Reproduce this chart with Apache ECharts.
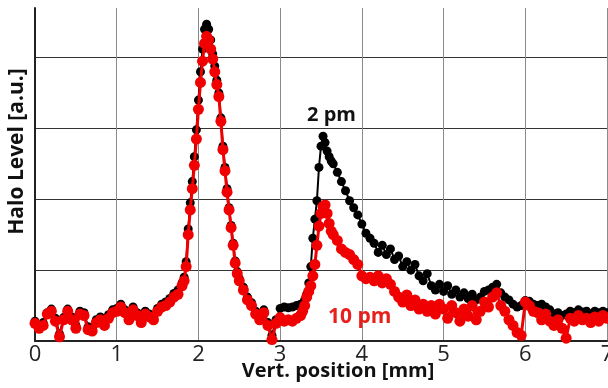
<!DOCTYPE html>
<html><head><meta charset="utf-8">
<script src="https://cdn.jsdelivr.net/npm/echarts@6/dist/echarts.min.js"></script>
<style>html,body{margin:0;padding:0;background:#fff}#c{width:608px;height:388px}</style>
</head><body><div id="c"></div>
<script>
// sample positions along x (mm); denser on the steep flanks
const positions = [0.00,0.05,0.10,0.15,0.20,0.25,0.30,0.35,0.40,0.45,0.50,0.55,0.60,0.65,0.70,0.75,0.80,0.85,0.90,0.95,
1.00,1.05,1.10,1.15,1.20,1.25,1.30,1.35,1.40,1.45,1.50,1.55,1.60,1.65,1.70,1.75,
1.800,1.825,1.850,1.875,1.900,1.925,1.950,1.975,2.000,2.025,2.050,2.075,2.100,2.125,2.150,2.175,2.200,2.225,2.250,2.275,2.300,2.325,2.350,2.375,2.400,2.425,2.450,2.475,2.500,
2.55,2.60,2.65,2.70,2.75,2.80,2.85,2.90,2.95,3.00,3.05,3.10,3.15,3.20,
3.250,3.275,3.300,3.325,3.350,3.375,3.400,3.425,3.450,3.475,3.500,3.525,3.550,3.575,3.600,3.625,3.650,
3.70,3.75,3.80,3.85,3.90,3.95,4.00,4.05,4.10,4.15,4.20,4.25,4.30,4.35,4.40,4.45,4.50,4.55,4.60,4.65,
4.70,4.75,4.80,4.85,4.90,4.95,5.00,5.05,5.10,5.15,5.20,5.25,5.30,5.35,5.40,5.45,5.50,5.55,5.60,5.65,
5.70,5.75,5.80,5.85,5.90,5.95,6.00,6.05,6.10,6.15,6.20,6.25,6.30,6.35,6.40,6.45,6.50,6.55,6.60,6.65,
6.70,6.75,6.80,6.85,6.90,6.95,7.00];

// 2 pm halo level (a.u.)
const halo2pm = [0.28,0.22,0.26,0.40,0.45,0.32,0.10,0.33,0.45,0.34,0.22,0.42,0.40,0.20,0.18,0.30,0.34,0.28,0.37,0.44,
0.46,0.52,0.44,0.35,0.48,0.40,0.30,0.42,0.38,0.35,0.46,0.52,0.55,0.60,0.67,0.72,
0.82,0.90,1.12,1.58,1.95,2.25,2.60,2.98,3.40,3.80,4.12,4.40,4.47,4.40,4.25,4.05,3.88,3.68,3.50,3.15,2.75,2.45,2.15,1.88,1.63,1.38,1.13,0.98,0.88,
0.76,0.62,0.54,0.42,0.34,0.44,0.26,0.08,0.30,0.46,0.48,0.47,0.48,0.50,
0.52,0.50,0.58,0.66,0.82,1.05,1.45,1.72,1.98,2.45,2.75,2.89,2.80,2.68,2.60,2.54,2.50,
2.38,2.25,2.12,1.98,1.88,1.78,1.65,1.52,1.45,1.38,1.25,1.35,1.22,1.30,1.15,1.20,1.05,1.12,1.00,1.08,
0.92,0.85,0.95,0.78,0.72,0.80,0.70,0.78,0.66,0.72,0.62,0.68,0.60,0.66,0.58,0.62,0.70,0.72,0.76,0.80,
0.68,0.62,0.58,0.52,0.48,0.50,0.57,0.56,0.52,0.50,0.52,0.48,0.44,0.38,0.40,0.36,0.38,0.42,0.40,0.44,
0.41,0.42,0.38,0.42,0.40,0.42,0.40];

// 10 pm halo level (a.u.)
const halo10pm = [0.25,0.18,0.22,0.38,0.42,0.28,0.06,0.30,0.42,0.30,0.18,0.38,0.36,0.16,0.14,0.26,0.30,0.22,0.32,0.40,
0.42,0.48,0.40,0.30,0.44,0.36,0.26,0.38,0.34,0.30,0.42,0.48,0.50,0.55,0.62,0.66,
0.78,0.85,1.05,1.50,1.85,2.15,2.48,2.85,3.27,3.65,3.95,4.20,4.30,4.25,4.12,3.98,3.80,3.62,3.45,3.10,2.70,2.40,2.10,1.85,1.60,1.35,1.10,0.95,0.85,
0.72,0.58,0.50,0.38,0.30,0.40,0.22,0.02,0.25,0.33,0.28,0.30,0.28,0.32,
0.36,0.42,0.50,0.62,0.70,0.78,0.92,1.08,1.35,1.62,1.80,1.90,1.92,1.80,1.66,1.55,1.50,
1.42,1.30,1.25,1.22,1.15,1.08,0.92,0.88,0.90,0.85,0.92,0.82,0.88,0.80,0.70,0.62,0.55,0.65,0.50,0.58,
0.45,0.52,0.42,0.50,0.38,0.52,0.45,0.32,0.50,0.40,0.28,0.45,0.35,0.50,0.30,0.42,0.55,0.48,0.62,0.68,
0.50,0.42,0.30,0.22,0.12,0.08,0.55,0.50,0.42,0.40,0.30,0.38,0.28,0.22,0.30,0.18,0.04,0.32,0.28,0.36,
0.30,0.32,0.26,0.34,0.28,0.36,0.32];

const xTicks = [0,1,2,3,4,5,6,7];
const labels = {black: '2 pm', red: '10 pm'};

if (halo2pm.length !== positions.length || halo10pm.length !== positions.length) {
  throw new Error('length mismatch ' + positions.length + ' ' + halo2pm.length + ' ' + halo10pm.length);
}
const pair = arr => positions.map((x, i) => [x, arr[i]]);
const chart = echarts.init(document.getElementById('c'), null, {renderer: 'canvas'});
chart.setOption({
  animation: false,
  backgroundColor: '#fff',
  grid: {left: 35, right: 1, top: 8, bottom: 47, containLabel: false, outerBoundsMode: 'none'},
  xAxis: {
    type: 'value', min: 0, max: 7, interval: 1,
    name: 'Vert. position [mm]', nameLocation: 'middle', nameGap: 20, nameMoveOverlap: false,
    nameTextStyle: {fontFamily: 'Open Sans', fontWeight: 'bold', fontSize: 20, color: '#111', padding: [0, 0, 0, 34], verticalAlign: 'top'},
    axisLine: {show: true, lineStyle: {color: '#222', width: 2}},
    axisTick: {show: false},
    axisLabel: {fontFamily: 'Open Sans', fontSize: 22, color: '#222', margin: 3,
      formatter: v => xTicks.includes(v) ? String(v) : ''},
    splitLine: {show: true, lineStyle: {color: '#8a8a8a', width: 1}}
  },
  yAxis: {
    type: 'value', min: 0, max: 4.7, interval: 1,
    name: 'Halo Level [a.u.]', nameLocation: 'middle', nameGap: 7, nameMoveOverlap: false,
    nameTextStyle: {fontFamily: 'Open Sans', fontWeight: 'bold', fontSize: 21, color: '#111', padding: [0, 0, 0, 46]},
    axisLine: {show: true, lineStyle: {color: '#222', width: 2}},
    axisTick: {show: false},
    axisLabel: {show: false},
    splitLine: {show: true, lineStyle: {color: ['#333', '#333', '#333', '#333', '#333', 'rgba(0,0,0,0)'], width: 1}}
  },
  series: [
    {name: labels.black, type: 'line', data: pair(halo2pm), symbol: 'circle', symbolSize: 9,
      itemStyle: {color: '#000'}, lineStyle: {color: '#000', width: 2}, z: 2},
    {name: labels.red, type: 'line', data: pair(halo10pm), symbol: 'circle', symbolSize: 11,
      itemStyle: {color: '#f00000'}, lineStyle: {color: '#f00000', width: 3}, z: 3}
  ],
  graphic: [
    {type: 'text', left: 307, top: 105, z: 10, style: {text: labels.black, fontFamily: 'Open Sans', fontWeight: 'bold', fontSize: 20, fill: '#111'}},
    {type: 'text', left: 328, top: 307, z: 10, style: {text: labels.red, fontFamily: 'Open Sans', fontWeight: 'bold', fontSize: 21, fill: '#e8201c'}}
  ]
});
</script></body></html>
